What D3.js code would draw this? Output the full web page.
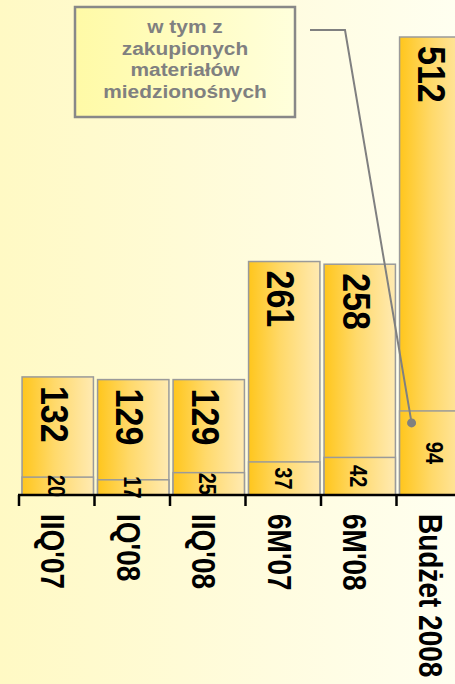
<html>
<head>
<meta charset="utf-8">
<script src="https://d3js.org/d3.v7.min.js" charset="utf-8"></script>
<style>
body { margin: 0; overflow: hidden; font-family: "Liberation Sans", Arial, sans-serif; }
</style>
</head>
<body>
<script>
  // data
  var categories = ["IIQ'07", "IQ'08", "IIQ'08", "6M'07", "6M'08", "Budżet 2008"];
  var totals = [132, 129, 129, 261, 258, 512];
  var inner = [20, 17, 25, 37, 42, 94];
  var noteLines = ["w tym z", "zakupionych", "materiałów", "miedzionośnych"];

  var width = 455, height = 684;
  var baseY = 495;
  var stretch = 1.16; // glyphs in the picture are a little wide

  var svg = d3.select("body").append("svg")
    .attr("width", width).attr("height", height);

  var defs = svg.append("defs");
  var bg = defs.append("linearGradient").attr("id", "bg")
    .attr("x1", 0).attr("x2", 1).attr("y1", 0).attr("y2", 0);
  bg.append("stop").attr("offset", "0%").attr("stop-color", "#fff9c4");
  bg.append("stop").attr("offset", "60%").attr("stop-color", "#fffcdf");
  bg.append("stop").attr("offset", "100%").attr("stop-color", "#fffff0");

  var barGrad = defs.append("linearGradient").attr("id", "bar")
    .attr("x1", 0).attr("x2", 1).attr("y1", 0).attr("y2", 0);
  barGrad.append("stop").attr("offset", "0%").attr("stop-color", "#ffc61c");
  barGrad.append("stop").attr("offset", "45%").attr("stop-color", "#ffd96a");
  barGrad.append("stop").attr("offset", "100%").attr("stop-color", "#ffeab2");

  var boxGrad = defs.append("linearGradient").attr("id", "box")
    .attr("x1", 0).attr("x2", 1).attr("y1", 0).attr("y2", 0);
  boxGrad.append("stop").attr("offset", "0%").attr("stop-color", "#fffaa6");
  boxGrad.append("stop").attr("offset", "100%").attr("stop-color", "#ffffdc");

  svg.append("rect").attr("width", width).attr("height", height).attr("fill", "url(#bg)");

  var x = d3.scaleBand().domain(categories)
    .range([20, 473]).paddingInner(0.055).paddingOuter(0.0275);
  var y = d3.scaleLinear().domain([0, 512]).range([baseY, 37]);

  var rows = categories.map(function(c, i) { return { cat: c, total: totals[i], inner: inner[i] }; });

  var g = svg.append("g");

  // total bars
  g.selectAll(".tot").data(rows).enter().append("rect")
    .attr("class", "tot")
    .attr("x", d => x(d.cat))
    .attr("y", d => y(d.total))
    .attr("width", x.bandwidth())
    .attr("height", d => baseY - y(d.total))
    .attr("fill", "url(#bar)")
    .attr("stroke", "#9a9a9a").attr("stroke-width", 1.5);

  // inner part (copper-bearing materials)
  g.selectAll(".inn").data(rows).enter().append("rect")
    .attr("class", "inn")
    .attr("x", d => x(d.cat))
    .attr("y", d => y(d.inner))
    .attr("width", x.bandwidth())
    .attr("height", d => baseY - y(d.inner))
    .attr("fill", "url(#bar)")
    .attr("stroke", "#9a9a9a").attr("stroke-width", 1.5);

  function rot(cx, cy) {
    return "translate(" + cx + "," + cy + ") rotate(90) scale(1," + stretch + ")";
  }

  // total values
  g.selectAll(".val").data(rows).enter().append("text")
    .attr("transform", d => rot(x(d.cat) + x.bandwidth() / 2 - 3, y(d.total) + 9))
    .attr("dy", "0.36em")
    .attr("text-anchor", "start")
    .attr("font-size", 34).attr("font-weight", "bold")
    .text(d => d.total);

  // inner values
  g.selectAll(".ival").data(rows).enter().append("text")
    .attr("transform", d => rot(x(d.cat) + x.bandwidth() / 2 - 1, (y(d.inner) + baseY) / 2))
    .attr("dy", "0.36em")
    .attr("text-anchor", "middle")
    .attr("font-size", 20).attr("font-weight", "bold")
    .text(d => d.inner);

  // axis
  var step = x.step();
  var ticks = d3.range(categories.length + 1).map(i => x(categories[0]) - x.paddingOuter() * step + i * step - 1);
  svg.append("line")
    .attr("x1", ticks[0] - 1).attr("x2", width)
    .attr("y1", baseY).attr("y2", baseY)
    .attr("stroke", "#000").attr("stroke-width", 2.5);
  svg.selectAll(".tick").data(ticks).enter().append("line")
    .attr("x1", d => d).attr("x2", d => d)
    .attr("y1", baseY).attr("y2", baseY + 11)
    .attr("stroke", "#000").attr("stroke-width", 2.5);

  svg.selectAll(".lab").data(categories).enter().append("text")
    .attr("transform", d => rot(x(d) + x.bandwidth() / 2 - 5, 514))
    .attr("dy", "0.36em")
    .attr("font-size", 28).attr("font-weight", "bold")
    .text(d => d);

  // callout
  var last = categories[categories.length - 1];
  var dotX = x(last) + 12, dotY = y(inner[inner.length - 1]) + 12;
  svg.append("polyline")
    .attr("points", [[310, 30], [345, 30], [dotX, dotY]].join(" "))
    .attr("fill", "none").attr("stroke", "#808080").attr("stroke-width", 2);
  svg.append("circle").attr("cx", dotX).attr("cy", dotY).attr("r", 4.5).attr("fill", "#808080");

  svg.append("rect").attr("x", 75).attr("y", 7).attr("width", 220).attr("height", 110)
    .attr("fill", "url(#box)").attr("stroke", "#888").attr("stroke-width", 2.5);
  svg.selectAll(".note").data(noteLines).enter().append("text")
    .attr("transform", (d, i) => "translate(185," + (33 + i * 21.7) + ") scale(" + stretch + ",1)")
    .attr("text-anchor", "middle")
    .attr("font-size", 18).attr("font-weight", "bold")
    .attr("fill", "#808080")
    .text(d => d);
</script>
</body>
</html>
